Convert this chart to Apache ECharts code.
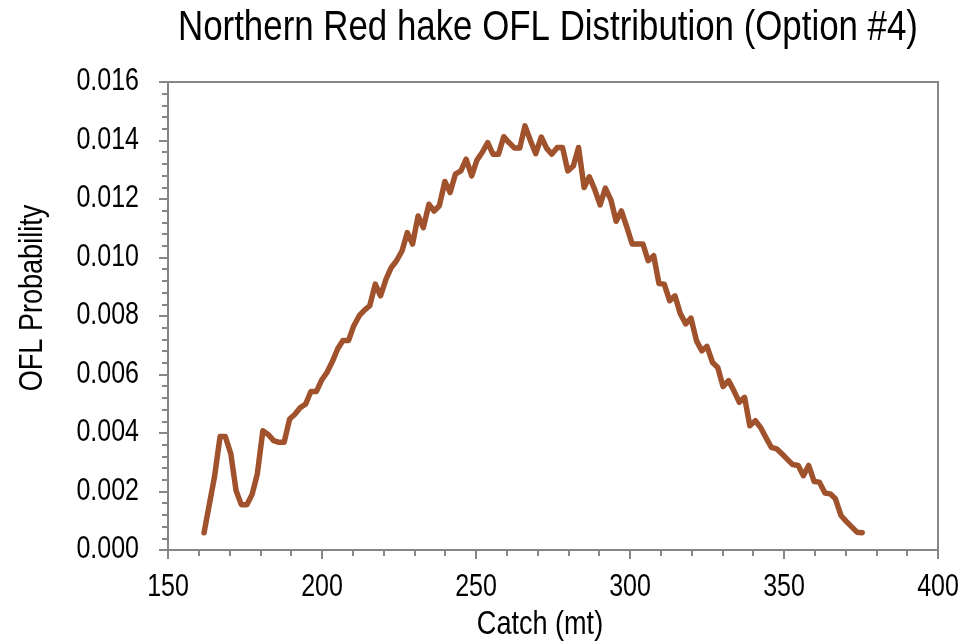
<!DOCTYPE html>
<html>
<head>
<meta charset="utf-8">
<script src="https://cdn.jsdelivr.net/npm/echarts@6/dist/echarts.min.js"></script>
<style>
html,body{margin:0;padding:0;background:#fff;}
#chart{width:961px;height:643px;}
</style>
</head>
<body>
<div id="chart"></div>
<script>
const titleText = "Northern Red hake OFL Distribution (Option #4)";
const xAxisName = "Catch (mt)";
const yAxisName = "OFL Probability";

const catchValues = [
161.7,163.4,165.1,166.9,168.6,170.4,172.1,173.8,175.6,177.3,
179.0,180.8,182.5,184.3,186.0,187.7,189.5,191.2,192.9,194.7,
196.4,198.2,199.9,201.6,203.4,205.1,206.8,208.6,210.3,212.1,
213.8,215.5,217.3,219.0,220.8,222.5,224.2,226.0,227.7,229.4,
231.2,232.9,234.7,236.4,238.1,239.9,241.6,243.3,245.1,246.8,
248.6,250.3,252.0,253.8,255.5,257.3,259.0,260.7,262.5,264.2,
265.9,267.7,269.4,271.2,272.9,274.6,276.4,278.1,279.8,281.6,
283.3,285.1,286.8,288.5,290.3,292.0,293.8,295.5,297.2,299.0,
300.7,302.4,304.2,305.9,307.7,309.4,311.1,312.9,314.6,316.3,
318.1,319.8,321.6,323.3,325.0,326.8,328.5,330.2,332.0,333.7,
335.5,337.2,338.9,340.7,342.4,344.1,345.9,347.6,349.4,351.1,
352.8,354.6,356.3,358.0,359.8,361.5,363.3,365.0,366.7,368.5,
370.2,371.9,373.7,375.4
];

const probabilities = [
0.00059,0.00155,0.00250,0.00388,0.00388,0.00329,0.00203,0.00155,0.00155,0.00190,
0.00260,0.00408,0.00395,0.00374,0.00368,0.00368,0.00448,0.00464,0.00486,0.00499,
0.00542,0.00542,0.00581,0.00607,0.00645,0.00688,0.00716,0.00716,0.00766,0.00801,
0.00820,0.00835,0.00909,0.00869,0.00926,0.00966,0.00989,0.01023,0.01085,0.01046,
0.01142,0.01102,0.01182,0.01159,0.01177,0.01260,0.01222,0.01285,0.01296,0.01336,
0.01279,0.01333,0.01359,0.01393,0.01353,0.01353,0.01413,0.01393,0.01374,0.01374,
0.01450,0.01399,0.01355,0.01412,0.01374,0.01353,0.01376,0.01376,0.01296,0.01313,
0.01376,0.01239,0.01276,0.01234,0.01180,0.01237,0.01197,0.01124,0.01159,0.01103,
0.01046,0.01046,0.01046,0.00989,0.01006,0.00911,0.00909,0.00852,0.00869,0.00809,
0.00773,0.00793,0.00715,0.00681,0.00696,0.00641,0.00624,0.00559,0.00579,0.00545,
0.00505,0.00522,0.00425,0.00442,0.00419,0.00385,0.00351,0.00346,0.00328,0.00310,
0.00292,0.00289,0.00254,0.00289,0.00234,0.00232,0.00195,0.00192,0.00175,0.00118,
0.00098,0.00080,0.00061,0.00059
];

const xTicks = [150, 200, 250, 300, 350, 400];
const yTicks = [0.000, 0.002, 0.004, 0.006, 0.008, 0.010, 0.012, 0.014, 0.016];

const FAMILY = '"Liberation Sans", Arial, sans-serif';
const NARROW = 0.82;
const AXIS_COLOR = '#868686';
const LINE_COLOR = '#A0522D';

const chart = echarts.init(document.getElementById('chart'), null, {renderer: 'canvas'});
chart.setOption({
  animation: false,
  backgroundColor: '#ffffff',
  grid: {
    left: 168, right: 23, top: 82, bottom: 93,
    show: true, borderColor: AXIS_COLOR, borderWidth: 2, backgroundColor: 'transparent'
  },
  xAxis: {
    type: 'value',
    min: xTicks[0], max: xTicks[xTicks.length - 1], interval: 50,
    axisLine: {show: true, lineStyle: {color: AXIS_COLOR, width: 2}},
    axisTick: {show: true, inside: false, length: 9, lineStyle: {color: AXIS_COLOR, width: 2}},
    minorTick: {show: true, splitNumber: 5, length: 6, lineStyle: {color: AXIS_COLOR, width: 2}},
    axisLabel: {show: false},
    splitLine: {show: false}
  },
  yAxis: {
    type: 'value',
    min: yTicks[0], max: yTicks[yTicks.length - 1], interval: 0.002,
    axisLine: {show: true, lineStyle: {color: AXIS_COLOR, width: 2}},
    axisTick: {show: true, inside: false, length: 9, lineStyle: {color: AXIS_COLOR, width: 2}},
    minorTick: {show: true, splitNumber: 5, length: 6, lineStyle: {color: AXIS_COLOR, width: 2}},
    axisLabel: {show: false},
    splitLine: {show: false}
  },
  series: [{
    type: 'line',
    data: catchValues.map((c, i) => [c, probabilities[i]]),
    showSymbol: false,
    smooth: false,
    lineStyle: {color: LINE_COLOR, width: 5.5, cap: 'round', join: 'round'},
    itemStyle: {color: LINE_COLOR}
  }]
});

// Narrow (condensed) text drawn as real text, scaled horizontally.
function narrowText(text, x, y, size, align, rotation) {
  return {
    type: 'text', x: x, y: y, rotation: rotation || 0,
    scaleX: NARROW, scaleY: 1, silent: true,
    style: {
      text: text, fontSize: size, fontFamily: FAMILY, fill: '#000',
      align: align, verticalAlign: 'middle',
      textAlign: align, textVerticalAlign: 'middle'
    }
  };
}

const graphics = [];
graphics.push(narrowText(titleText, 548, 28, 42.5, 'center'));
graphics.push(narrowText(xAxisName, 540, 625, 33, 'center'));
graphics.push(narrowText(yAxisName, 33, 298, 33, 'center', Math.PI / 2));

xTicks.forEach(v => {
  const p = chart.convertToPixel({gridIndex: 0}, [v, 0]);
  graphics.push(narrowText(String(v), p[0], p[1] + 38, 30.5, 'center'));
});
yTicks.forEach(v => {
  const p = chart.convertToPixel({gridIndex: 0}, [xTicks[0], v]);
  graphics.push(narrowText(v.toFixed(3), p[0] - 29, p[1], 30.5, 'right'));
});

chart.setOption({graphic: {elements: graphics}});
</script>
</body>
</html>
